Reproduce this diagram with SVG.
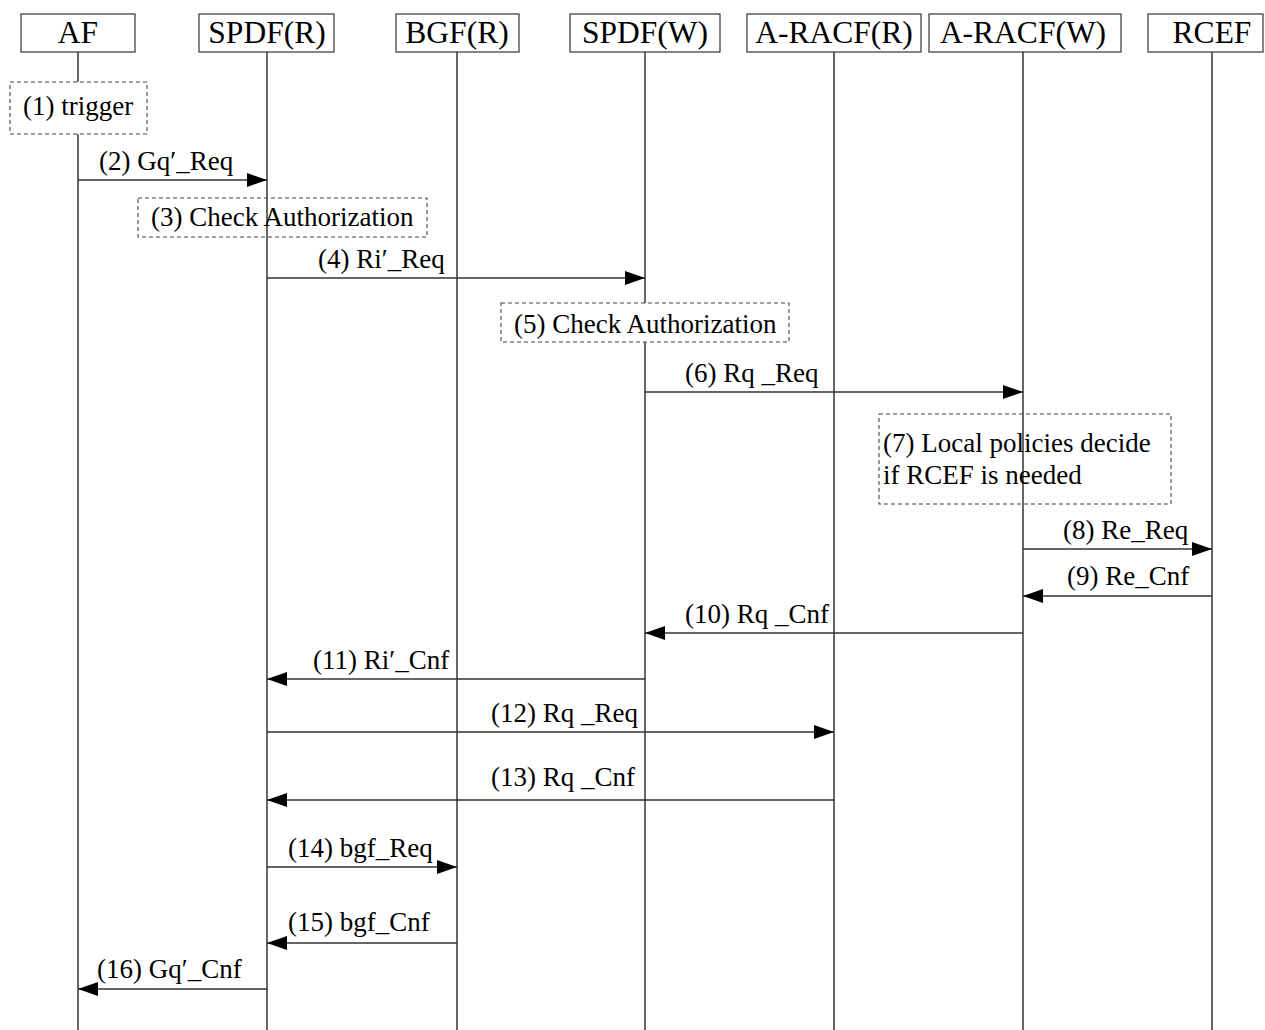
<svg xmlns="http://www.w3.org/2000/svg" width="1265" height="1030" viewBox="0 0 1265 1030">
<style>
.hdr{fill:#fff;stroke:#333;stroke-width:1.2}
.ht{font-family:"Liberation Serif","Times New Roman",serif;font-size:31.5px;fill:#000;text-anchor:middle}
.life{stroke:#000;stroke-width:1.2}
.msg{stroke:#333;stroke-width:1.4;fill:none;marker-end:url(#ah)}
.lt{font-family:"Liberation Serif","Times New Roman",serif;font-size:27px;fill:#000}
.note{stroke:#444;stroke-width:1.1;stroke-dasharray:4 3}
</style>
<defs>
<marker id="ah" markerUnits="userSpaceOnUse" markerWidth="22" markerHeight="16" refX="20" refY="7" orient="auto">
<path d="M0,0 L20,7 L0,14 z" fill="#000"/>
</marker>
</defs>
<rect width="1265" height="1030" fill="#fff"/>
<g id="lifelines">
<g id="AF"><line class="life" x1="78" y1="52" x2="78" y2="1030"/><rect class="hdr" x="21" y="14" width="114" height="38"/><text class="ht" x="78" y="43">AF</text></g>
<g id="SPDF-R"><line class="life" x1="267" y1="52" x2="267" y2="1030"/><rect class="hdr" x="199" y="14" width="135" height="38"/><text class="ht" x="267" y="43">SPDF(R)</text></g>
<g id="BGF-R"><line class="life" x1="457" y1="52" x2="457" y2="1030"/><rect class="hdr" x="396" y="14" width="123" height="38"/><text class="ht" x="457" y="43">BGF(R)</text></g>
<g id="SPDF-W"><line class="life" x1="645" y1="52" x2="645" y2="1030"/><rect class="hdr" x="570" y="14" width="150" height="38"/><text class="ht" x="645" y="43">SPDF(W)</text></g>
<g id="A-RACF-R"><line class="life" x1="834" y1="52" x2="834" y2="1030"/><rect class="hdr" x="747" y="14" width="174" height="38"/><text class="ht" x="834" y="43">A-RACF(R)</text></g>
<g id="A-RACF-W"><line class="life" x1="1023" y1="52" x2="1023" y2="1030"/><rect class="hdr" x="929" y="14" width="192" height="38"/><text class="ht" x="1023" y="43">A-RACF(W)</text></g>
<g id="RCEF"><line class="life" x1="1212" y1="52" x2="1212" y2="1030"/><rect class="hdr" x="1148" y="14" width="115" height="38"/><text class="ht" x="1212" y="43">RCEF</text></g>
</g>
<g id="notes">
<g id="n1"><rect class="note" x="10" y="82" width="137" height="52" fill="#fff"/><text class="lt" x="23" y="115">(1) trigger</text></g>
<g id="n3"><rect class="note" x="138" y="198" width="289" height="39" fill="none"/><text class="lt" x="151" y="226">(3) Check Authorization</text></g>
<g id="n5"><rect class="note" x="501" y="303" width="288" height="39" fill="#fff"/><text class="lt" x="514" y="333">(5) Check Authorization</text></g>
<g id="n7"><rect class="note" x="879" y="414" width="292" height="90" fill="none"/><text class="lt" x="883" y="452">(7) Local policies decide</text><text class="lt" x="883" y="484">if RCEF is needed</text></g>
</g>
<g id="connectors">
<line class="msg" x1="78" y1="180" x2="267" y2="180"/>
<line class="msg" x1="267" y1="278" x2="645" y2="278"/>
<line class="msg" x1="645" y1="392" x2="1023" y2="392"/>
<line class="msg" x1="1023" y1="549" x2="1212" y2="549"/>
<line class="msg" x1="1212" y1="596" x2="1023" y2="596"/>
<line class="msg" x1="1023" y1="633" x2="645" y2="633"/>
<line class="msg" x1="645" y1="679" x2="267" y2="679"/>
<line class="msg" x1="267" y1="732" x2="834" y2="732"/>
<line class="msg" x1="834" y1="800" x2="267" y2="800"/>
<line class="msg" x1="267" y1="867" x2="457" y2="867"/>
<line class="msg" x1="457" y1="943" x2="267" y2="943"/>
<line class="msg" x1="267" y1="989" x2="78" y2="989"/>
</g>
<g id="labels">
<text class="lt" x="99" y="170">(2) Gq′_Req</text>
<text class="lt" x="318" y="268">(4) Ri′_Req</text>
<text class="lt" x="685" y="382">(6) Rq _Req</text>
<text class="lt" x="1063" y="539">(8) Re_Req</text>
<text class="lt" x="1067" y="585">(9) Re_Cnf</text>
<text class="lt" x="685" y="623">(10) Rq _Cnf</text>
<text class="lt" x="313" y="669">(11) Ri′_Cnf</text>
<text class="lt" x="491" y="722">(12) Rq _Req</text>
<text class="lt" x="491" y="786">(13) Rq _Cnf</text>
<text class="lt" x="288" y="857">(14) bgf_Req</text>
<text class="lt" x="288" y="931">(15) bgf_Cnf</text>
<text class="lt" x="97" y="978">(16) Gq′_Cnf</text>
</g>
</svg>
